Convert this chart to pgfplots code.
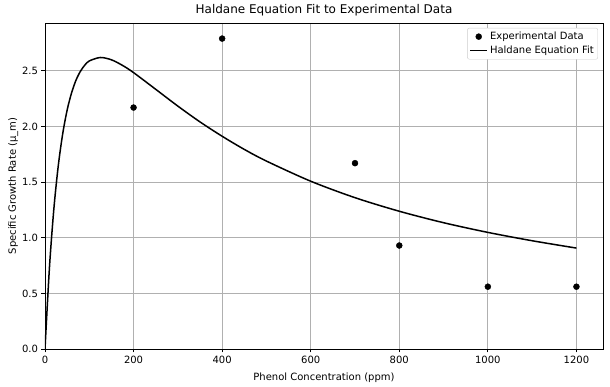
\documentclass[border=0pt]{standalone}
\usepackage{pgfplots}
\pgfplotsset{compat=1.18}
\usepackage{fontspec}
\setmainfont{DejaVu Sans}
\begin{document}
\begin{tikzpicture}
\begin{axis}[
  scale only axis,
  width=558pt, height=326pt,
  xmin=0, xmax=1260, ymin=0, ymax=2.93,
  xtick={0,200,400,600,800,1000,1200},
  ytick={0,0.5,1,1.5,2,2.5},
  yticklabel style={/pgf/number format/fixed,/pgf/number format/fixed zerofill,/pgf/number format/precision=1},
  xticklabel style={/pgf/number format/1000 sep={}},
  /pgf/number format/assume math mode=true,
  scaled y ticks=false,
  xtick pos=bottom, ytick pos=left,
  tick align=outside,
  major tick length=3.5pt,
  tick style={black, line width=0.8pt},
  axis line style={line width=0.8pt},
  grid=major,
  grid style={color=black!31, line width=0.8pt},
  tick label style={font=\fontsize{10}{12}\selectfont},
  label style={font=\fontsize{10}{12}\selectfont},
  title style={font=\fontsize{12}{14}\selectfont, yshift=-3pt},
  title={Haldane Equation Fit to Experimental Data},
  xlabel={Phenol Concentration (ppm)},
  ylabel={Specific Growth Rate (μ\_m)},
  xlabel style={yshift=-2pt},
  ylabel style={yshift=-3pt},
  legend style={font=\fontsize{10}{12}\selectfont, draw=black!20, rounded corners=2pt, inner sep=2pt, row sep=1pt, at={(0.991,0.985)}, anchor=north east},
  legend cell align=left,
]
\addplot[only marks, mark=*, mark size=3pt, black] coordinates {
(200,2.17) (400,2.79) (700,1.67) (800,0.93) (1000,0.56) (1200,0.56)};
\addlegendentry{Experimental Data}
\addplot[black, line width=1.5pt, smooth] coordinates {
(0,0) (10,0.729) (20,1.259) (30,1.648) (40,1.935) (50,2.147) (60,2.302) (70,2.416)
(80,2.496) (90,2.552) (100,2.589) (125,2.620) (150,2.599) (175,2.549) (200,2.484)
(250,2.334) (300,2.183) (350,2.041) (400,1.912) (450,1.794) (500,1.689) (600,1.508)
(700,1.360) (800,1.238) (900,1.135) (1000,1.048) (1100,0.973) (1200,0.907)};
\addlegendentry{Haldane Equation Fit}
\coordinate (sw) at (rel axis cs:0,0);
\coordinate (ne) at (rel axis cs:1,1);
\end{axis}
\pgfresetboundingbox
\path ([shift={(-45pt,-38pt)}]sw) rectangle ([shift={(7pt,23pt)}]ne);
\end{tikzpicture}
\end{document}
